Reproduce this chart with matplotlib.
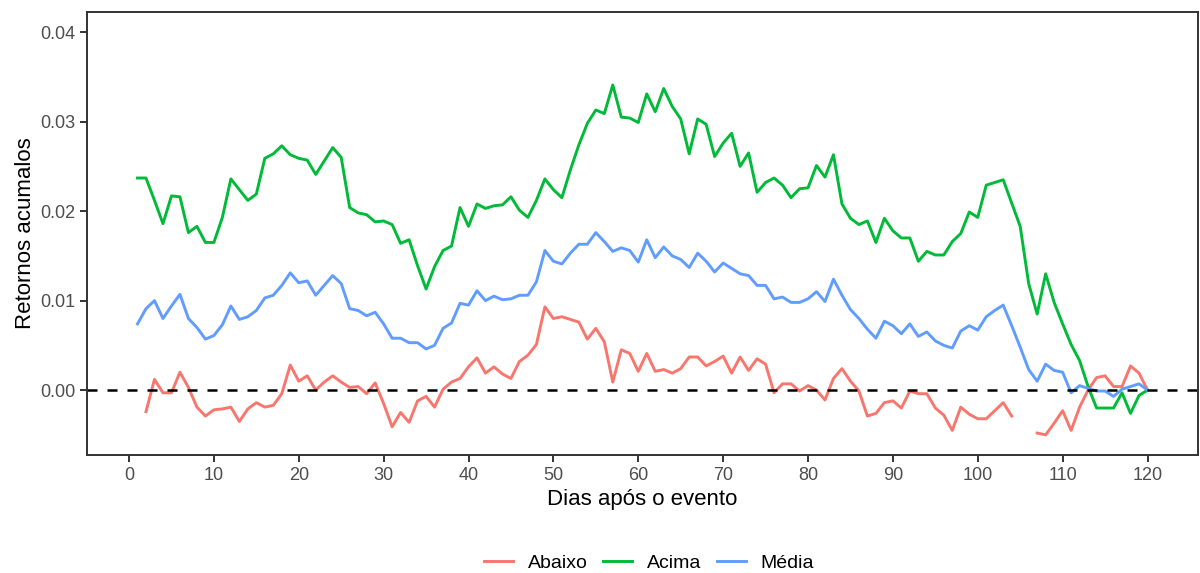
import numpy as np
import matplotlib.pyplot as plt

plt.rcParams['font.family'] = ['Liberation Sans', 'DejaVu Sans']

nan = np.nan
dias = np.arange(1, 121)

abaixo = [nan, -0.0024, 0.0012, -0.0003, -0.0003, 0.0020, 0.0003, -0.0019, -0.0029, -0.0022,
          -0.0021, -0.0019, -0.0035, -0.0021, -0.0014, -0.0019, -0.0017, -0.0004, 0.0028, 0.0010,
          0.0016, 0.0000, 0.0009, 0.0016, 0.0009, 0.0003, 0.0004, -0.0004, 0.0008, -0.0015,
          -0.0041, -0.0025, -0.0036, -0.0012, -0.0007, -0.0019, 0.0001, 0.0009, 0.0013, 0.0026,
          0.0036, 0.0019, 0.0026, 0.0018, 0.0013, 0.0032, 0.0039, 0.0051, 0.0093, 0.0080,
          0.0082, 0.0079, 0.0076, 0.0057, 0.0069, 0.0054, 0.0009, 0.0045, 0.0041, 0.0021,
          0.0041, 0.0021, 0.0023, 0.0019, 0.0024, 0.0037, 0.0037, 0.0027, 0.0032, 0.0038,
          0.0019, 0.0037, 0.0022, 0.0035, 0.0029, -0.0003, 0.0007, 0.0007, -0.0001, 0.0005,
          0.0000, -0.0011, 0.0013, 0.0024, 0.0010, -0.0001, -0.0029, -0.0026, -0.0014, -0.0012,
          -0.0020, -0.0001, -0.0004, -0.0004, -0.0020, -0.0028, -0.0045, -0.0019, -0.0027, -0.0032,
          -0.0032, -0.0023, -0.0014, -0.0029, nan, nan, -0.0048, -0.0050, -0.0037, -0.0023,
          -0.0045, -0.0019, 0.0000, 0.0014, 0.0016, 0.0004, 0.0004, 0.0027, 0.0019, 0.0000]

acima = [0.0237, 0.0237, 0.0212, 0.0186, 0.0217, 0.0216, 0.0176, 0.0183, 0.0165, 0.0165,
         0.0193, 0.0236, 0.0224, 0.0212, 0.0219, 0.0259, 0.0264, 0.0273, 0.0263, 0.0259,
         0.0257, 0.0241, 0.0256, 0.0271, 0.0260, 0.0204, 0.0198, 0.0196, 0.0188, 0.0189,
         0.0185, 0.0164, 0.0168, 0.0139, 0.0113, 0.0138, 0.0156, 0.0161, 0.0204, 0.0183,
         0.0208, 0.0203, 0.0206, 0.0207, 0.0216, 0.0201, 0.0193, 0.0212, 0.0236, 0.0224,
         0.0215, 0.0246, 0.0274, 0.0298, 0.0313, 0.0309, 0.0341, 0.0305, 0.0304, 0.0299,
         0.0331, 0.0311, 0.0337, 0.0317, 0.0303, 0.0264, 0.0303, 0.0297, 0.0261, 0.0276,
         0.0287, 0.0250, 0.0265, 0.0221, 0.0232, 0.0237, 0.0229, 0.0215, 0.0225, 0.0226,
         0.0251, 0.0238, 0.0263, 0.0208, 0.0192, 0.0185, 0.0189, 0.0165, 0.0192, 0.0178,
         0.0170, 0.0170, 0.0144, 0.0155, 0.0151, 0.0151, 0.0166, 0.0175, 0.0199, 0.0193,
         0.0229, 0.0232, 0.0235, 0.0209, 0.0183, 0.0119, 0.0085, 0.0130, 0.0098, 0.0074,
         0.0051, 0.0033, 0.0004, -0.0020, -0.0020, -0.0020, -0.0003, -0.0026, -0.0006, 0.0000]

media = [0.0074, 0.0091, 0.0100, 0.0080, 0.0094, 0.0107, 0.0080, 0.0070, 0.0057, 0.0061,
         0.0073, 0.0094, 0.0079, 0.0082, 0.0089, 0.0103, 0.0106, 0.0117, 0.0131, 0.0120,
         0.0122, 0.0106, 0.0117, 0.0128, 0.0119, 0.0091, 0.0089, 0.0083, 0.0087, 0.0074,
         0.0058, 0.0058, 0.0053, 0.0053, 0.0046, 0.0050, 0.0069, 0.0075, 0.0097, 0.0095,
         0.0111, 0.0100, 0.0105, 0.0101, 0.0102, 0.0106, 0.0106, 0.0121, 0.0156, 0.0144,
         0.0141, 0.0153, 0.0163, 0.0163, 0.0176, 0.0166, 0.0155, 0.0159, 0.0156, 0.0143,
         0.0168, 0.0148, 0.0160, 0.0150, 0.0146, 0.0137, 0.0153, 0.0144, 0.0132, 0.0142,
         0.0136, 0.0130, 0.0128, 0.0117, 0.0117, 0.0102, 0.0104, 0.0098, 0.0098, 0.0102,
         0.0110, 0.0099, 0.0124, 0.0106, 0.0090, 0.0080, 0.0068, 0.0058, 0.0077, 0.0072,
         0.0063, 0.0074, 0.0060, 0.0065, 0.0055, 0.0050, 0.0047, 0.0066, 0.0072, 0.0067,
         0.0082, 0.0089, 0.0095, 0.0072, 0.0048, 0.0023, 0.0010, 0.0029, 0.0022, 0.0020,
         -0.0003, 0.0005, 0.0002, -0.0001, -0.0001, -0.0007, 0.0001, 0.0004, 0.0007, 0.0000]

series = [("Abaixo", abaixo, "#F8766D"),
          ("Acima", acima, "#00BA38"),
          ("Média", media, "#619CFF")]

fig = plt.figure(figsize=(12, 5.73), dpi=100)
ax = fig.add_axes([87 / 1200, 1 - 455 / 573, (1198 - 87) / 1200, (455 - 12) / 573])

for nome, vals, cor in series:
    ax.plot(dias, vals, color=cor, lw=2.1, label=nome)

ax.axhline(0, color="black", lw=1.8, linestyle=(0, (4, 4)))

ax.set_xlim(-4.95, 125.95)
ax.set_ylim(-0.00725, 0.04225)
ax.set_xticks(np.arange(0, 121, 10))
ax.set_yticks([0.00, 0.01, 0.02, 0.03, 0.04])
ax.set_yticklabels(["0.00", "0.01", "0.02", "0.03", "0.04"])

for s in ax.spines.values():
    s.set_color("#333333")
    s.set_linewidth(1.4)
ax.tick_params(colors="#333333", labelcolor="#4D4D4D", labelsize=13, length=5, width=1.4)

ax.set_xlabel("Dias após o evento", fontsize=16, color="black", labelpad=4)
ax.set_ylabel("Retornos acumalos", fontsize=16, color="black", labelpad=3)

fig.legend(loc="center", bbox_to_anchor=(649 / 1200, 1 - 563 / 573), ncol=3, frameon=False,
           fontsize=14, handlelength=1.5, handletextpad=0.75, columnspacing=0.8)

fig.savefig("out.png", dpi=100)
